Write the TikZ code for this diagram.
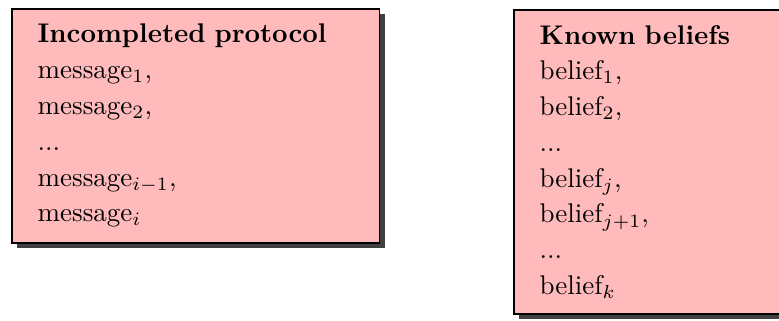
\documentclass[tikz,border=0pt]{standalone}
\usetikzlibrary{shadows}
\definecolor{boxpink}{RGB}{255,187,187}
\begin{document}
\begin{tikzpicture}[x=0.3704pt,y=-0.3704pt,
  listbox/.style={draw=black, semithick, fill=boxpink, anchor=north west,
    align=left, text width=117pt, inner xsep=9.6pt, inner ysep=5.7pt,
    font=\fontsize{10}{13.25}\selectfont,
    drop shadow={shadow xshift=1.9pt, shadow yshift=-1.9pt, fill=black!75, opacity=1}}]
\useasboundingbox (0,0) rectangle (779,320);
% protocol built so far
\node[listbox] (protocol) at (11,8) {\textbf{Incompleted protocol}\\
  message$_1$,\\
  message$_2$,\\
  ...\\
  message$_{i-1}$,\\
  message$_i$};
% beliefs available to the agent
\node[listbox] (beliefs) at (513,9) {\textbf{Known beliefs}\\
  belief$_1$,\\
  belief$_2$,\\
  ...\\
  belief$_j$,\\
  belief$_{j+1}$,\\
  ...\\
  belief$_k$};
\end{tikzpicture}
\end{document}
